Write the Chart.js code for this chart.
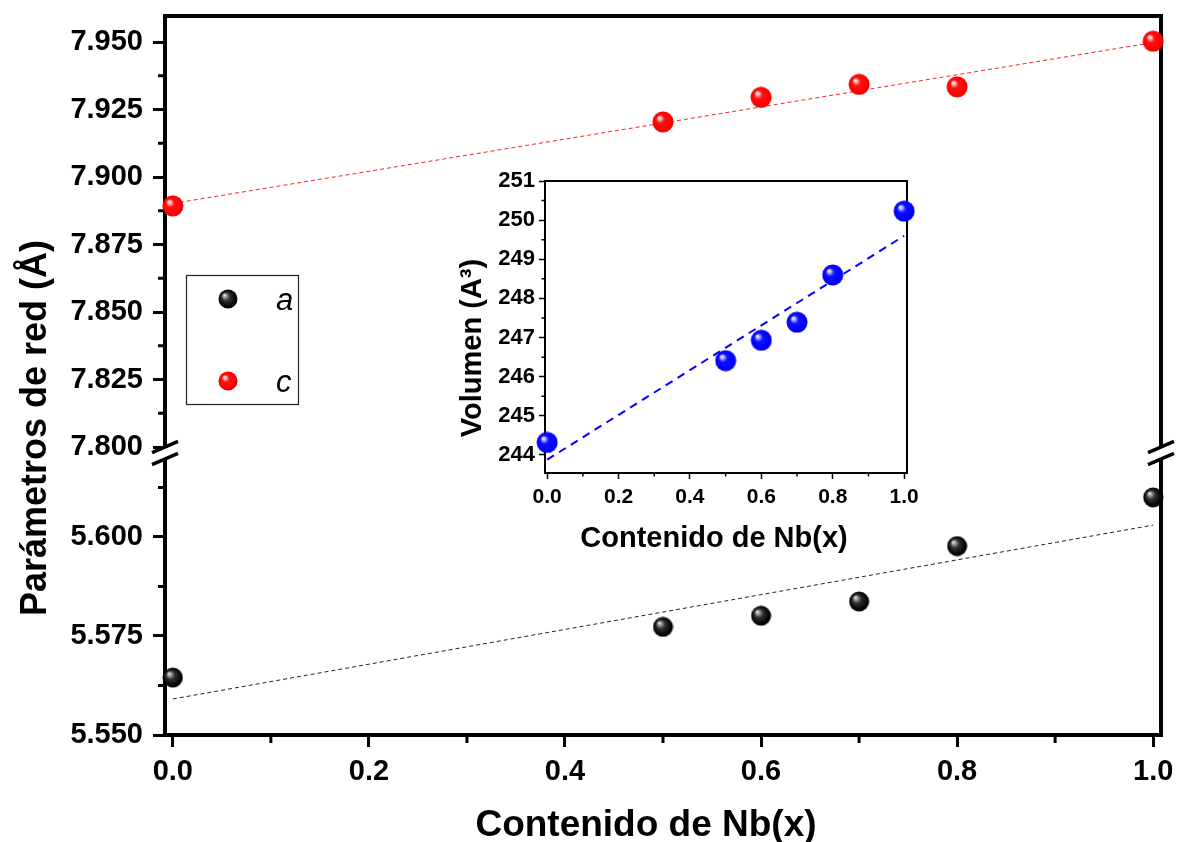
<!DOCTYPE html>
<html>
<head>
<meta charset="utf-8">
<script src="https://cdn.jsdelivr.net/npm/chart.js@4.4.0/dist/chart.umd.min.js"></script>
<style>
  html, body { margin: 0; padding: 0; background: #fff; }
  #wrap { position: relative; width: 1177px; height: 842px; }
  #mainChart { position: absolute; left: 0; top: 0; }
  #insetChart { position: absolute; left: 440px; top: 160px; }
</style>
</head>
<body>
<div id="wrap">
  <canvas id="mainChart" width="1177" height="842"></canvas>
  <canvas id="insetChart" width="480" height="400"></canvas>
</div>
<script>
const FONT = '"Liberation Sans", Arial, Helvetica, sans-serif';

// Nb content and lattice parameters (Å)
const nbContent = [0.0, 0.5, 0.6, 0.7, 0.8, 1.0];
const latticeA = [5.5645, 5.5773, 5.5801, 5.5837, 5.5977, 5.6100];
const latticeC = [7.8893, 7.9204, 7.9295, 7.9343, 7.9334, 7.9503];

// linear fits, end points
const fitX = [0.0, 1.0];
const fitA = [5.5591, 5.6030];
const fitC = [7.8902, 7.9498];

// cell volume (Å^3)
const volume = [244.32, 246.41, 246.93, 247.39, 248.60, 250.23];
const fitVolume = [243.88, 249.60];

// ticks
const xTickValues = [0.0, 0.2, 0.4, 0.6, 0.8, 1.0];
const xMinorValues = [0.1, 0.3, 0.5, 0.7, 0.9];
const cTickValues = [7.800, 7.825, 7.850, 7.875, 7.900, 7.925, 7.950];
const cMinorValues = [7.8125, 7.8375, 7.8625, 7.8875, 7.9125, 7.9375];
const aTickValues = [5.550, 5.575, 5.600];
const aMinorValues = [5.5625, 5.5875, 5.6125];
const volTickValues = [244, 245, 246, 247, 248, 249, 250, 251];
const volMinorValues = [244.5, 245.5, 246.5, 247.5, 248.5, 249.5, 250.5];

// shaded ball used as point marker
function makeBall(d, stops) {
    const c = document.createElement('canvas');
    c.width = d;
    c.height = d;
    const g = c.getContext('2d');
    const r = d / 2;
    const grad = g.createRadialGradient(r * 0.62, r * 0.6, 0, r, r, r);
    stops.forEach(([o, col]) => grad.addColorStop(o, col));
    g.fillStyle = grad;
    g.beginPath();
    g.arc(r, r, r - 0.5, 0, Math.PI * 2);
    g.fill();
    return c;
}

const redStops = [[0, '#ffffff'], [0.14, '#ffc0c0'], [0.38, '#ff1010'], [0.8, '#ff0000'], [1, '#e00000']];
const blackStops = [[0, '#ffffff'], [0.14, '#b0b0b0'], [0.42, '#303030'], [0.8, '#050505'], [1, '#000000']];
const blueStops = [[0, '#ffffff'], [0.14, '#c0c4ff'], [0.38, '#1010ff'], [0.8, '#0000ff'], [1, '#0000e0']];

const ballRed = makeBall(22, redStops);
const ballBlack = makeBall(21, blackStops);
const ballBlue = makeBall(22, blueStops);
const legendBalls = { a: makeBall(20, blackStops), c: makeBall(20, redStops) };

const toPoints = (xs, ys) => xs.map((x, i) => ({ x: x, y: ys[i] }));

function fixedTicks(values) {
    return scale => { scale.ticks = values.map(v => ({ value: v })); };
}

// fixed axis size, no extra room for overhanging tick labels
function fitSize(prop, size) {
    return scale => {
        scale[prop] = size;
        scale.paddingTop = 0;
        scale.paddingBottom = 0;
        scale.paddingLeft = 0;
        scale.paddingRight = 0;
    };
}

// frame, minor ticks, axis break, titles and legend of the main plot
const mainDecor = {
    id: 'mainDecor',
    beforeDatasetsDraw(chart) {
        const { ctx, chartArea: a, scales } = chart;
        ctx.save();
        ctx.strokeStyle = '#000';
        ctx.lineWidth = 4;
        ctx.strokeRect(a.left, a.top, a.right - a.left, a.bottom - a.top);

        ctx.lineWidth = 3;
        ctx.beginPath();
        xMinorValues.forEach(v => {
            const px = scales.x.getPixelForValue(v);
            ctx.moveTo(px, a.bottom);
            ctx.lineTo(px, a.bottom + 8);
        });
        cMinorValues.forEach(v => {
            const py = scales.yC.getPixelForValue(v);
            ctx.moveTo(a.left, py);
            ctx.lineTo(a.left - 7, py);
        });
        aMinorValues.forEach(v => {
            const py = scales.yA.getPixelForValue(v);
            ctx.moveTo(a.left, py);
            ctx.lineTo(a.left - 7, py);
        });
        ctx.stroke();
        ctx.restore();
    },
    afterDraw(chart) {
        const { ctx, chartArea: a, scales } = chart;
        const yb = scales.yC.bottom;
        ctx.save();

        // axis break marks on both sides
        [a.left, a.right].forEach(xa => {
            ctx.strokeStyle = '#fff';
            ctx.lineWidth = 9;
            ctx.beginPath();
            ctx.moveTo(xa - 6, yb + 2.6);
            ctx.lineTo(xa + 6, yb - 2.6);
            ctx.stroke();
            ctx.strokeStyle = '#000';
            ctx.lineWidth = 3.5;
            ctx.beginPath();
            [-6, 6].forEach(off => {
                ctx.moveTo(xa - 13, yb + off + 5.6);
                ctx.lineTo(xa + 13, yb + off - 5.6);
            });
            ctx.stroke();
        });

        // axis titles
        ctx.fillStyle = '#000';
        ctx.textAlign = 'center';
        ctx.textBaseline = 'alphabetic';
        ctx.font = 'bold 37px ' + FONT;
        ctx.fillText('Contenido de Nb(x)', 646, 836);
        ctx.save();
        ctx.translate(46, 428);
        ctx.rotate(-Math.PI / 2);
        ctx.font = 'bold 36px ' + FONT;
        ctx.fillText('Parámetros de red (Å)', 0, 0);
        ctx.restore();

        // legend box
        ctx.strokeStyle = '#222';
        ctx.lineWidth = 1.2;
        ctx.strokeRect(186.5, 275.5, 112, 129);
        const entries = [chart.data.datasets[1], chart.data.datasets[0]];
        ctx.textAlign = 'left';
        ctx.font = 'italic 31px ' + FONT;
        entries.forEach((ds, i) => {
            const cy = 299 + i * 82;
            const img = legendBalls[ds.label];
            ctx.drawImage(img, 228 - img.width / 2, cy - img.height / 2);
            ctx.fillText(ds.label, 276, cy + 11);
        });
        ctx.restore();
    }
};

const tickFont = { family: FONT, size: 29, weight: 'bold' };
const majorGrid = { drawOnChartArea: false, drawTicks: true, tickLength: 12, tickWidth: 3, tickColor: '#000' };

new Chart(document.getElementById('mainChart'), {
    type: 'scatter',
    data: {
        datasets: [
            {
                label: 'c',
                data: toPoints(nbContent, latticeC),
                yAxisID: 'yC',
                pointStyle: ballRed,
                pointRadius: 11,
                showLine: false,
                clip: false
            },
            {
                label: 'a',
                data: toPoints(nbContent, latticeA),
                yAxisID: 'yA',
                pointStyle: ballBlack,
                pointRadius: 10,
                showLine: false,
                clip: false
            },
            {
                label: 'fit c',
                data: toPoints(fitX, fitC),
                yAxisID: 'yC',
                showLine: true,
                pointRadius: 0,
                borderColor: '#ff2020',
                borderWidth: 1,
                borderDash: [4, 3]
            },
            {
                label: 'fit a',
                data: toPoints(fitX, fitA),
                yAxisID: 'yA',
                showLine: true,
                pointRadius: 0,
                borderColor: '#222',
                borderWidth: 1,
                borderDash: [4, 3]
            }
        ]
    },
    plugins: [mainDecor],
    options: {
        responsive: false,
        devicePixelRatio: 1,
        animation: false,
        events: [],
        layout: { padding: { top: 16, right: 16, left: 0, bottom: 0 } },
        plugins: { legend: { display: false }, tooltip: { enabled: false } },
        scales: {
            x: {
                type: 'linear',
                position: 'bottom',
                min: -0.008,
                max: 1.008,
                afterFit: fitSize('height', 107),
                afterBuildTicks: fixedTicks(xTickValues),
                ticks: { font: tickFont, color: '#000', padding: 8, maxRotation: 0, callback: v => Number(v).toFixed(1) },
                grid: majorGrid,
                border: { display: false }
            },
            yC: {
                type: 'linear',
                position: 'left',
                stack: 'lattice',
                stackWeight: 437,
                weight: 2,
                min: 7.79778,
                max: 7.95963,
                afterFit: fitSize('width', 165),
                afterBuildTicks: fixedTicks(cTickValues),
                ticks: { font: tickFont, color: '#000', padding: 10, callback: v => Number(v).toFixed(3) },
                grid: majorGrid,
                border: { display: false }
            },
            yA: {
                type: 'linear',
                position: 'left',
                stack: 'lattice',
                stackWeight: 282,
                weight: 1,
                min: 5.550,
                max: 5.62121,
                afterFit: fitSize('width', 165),
                afterBuildTicks: fixedTicks(aTickValues),
                ticks: { font: tickFont, color: '#000', padding: 10, callback: v => Number(v).toFixed(3) },
                grid: majorGrid,
                border: { display: false }
            }
        }
    }
});

// inset: frame, minor ticks and titles
const insetDecor = {
    id: 'insetDecor',
    beforeDatasetsDraw(chart) {
        const { ctx, chartArea: a, scales } = chart;
        ctx.save();
        ctx.strokeStyle = '#000';
        ctx.lineWidth = 2;
        ctx.strokeRect(a.left, a.top, a.right - a.left, a.bottom - a.top);
        ctx.lineWidth = 1.5;
        ctx.beginPath();
        xMinorValues.forEach(v => {
            const px = scales.x.getPixelForValue(v);
            ctx.moveTo(px, a.bottom);
            ctx.lineTo(px, a.bottom + 3.5);
        });
        volMinorValues.forEach(v => {
            const py = scales.y.getPixelForValue(v);
            ctx.moveTo(a.left, py);
            ctx.lineTo(a.left - 3.5, py);
        });
        ctx.stroke();
        ctx.restore();
    },
    afterDraw(chart) {
        const { ctx } = chart;
        ctx.save();
        ctx.fillStyle = '#000';
        ctx.textAlign = 'center';
        ctx.textBaseline = 'alphabetic';
        ctx.font = 'bold 29px ' + FONT;
        ctx.fillText('Contenido de Nb(x)', 274, 387);
        ctx.translate(41, 188);
        ctx.rotate(-Math.PI / 2);
        ctx.fillText('Volumen (A³)', 0, 0);
        ctx.restore();
    }
};

const insetGrid = { drawOnChartArea: false, drawTicks: true, tickLength: 6, tickWidth: 1.5, tickColor: '#000' };

new Chart(document.getElementById('insetChart'), {
    type: 'scatter',
    data: {
        datasets: [
            {
                label: 'V',
                data: toPoints(nbContent, volume),
                pointStyle: ballBlue,
                pointRadius: 11,
                showLine: false,
                clip: false
            },
            {
                label: 'fit V',
                data: toPoints(fitX, fitVolume),
                showLine: true,
                pointRadius: 0,
                borderColor: '#0000ff',
                borderWidth: 2,
                borderDash: [8, 6]
            }
        ]
    },
    plugins: [insetDecor],
    options: {
        responsive: false,
        devicePixelRatio: 1,
        animation: false,
        events: [],
        layout: { padding: { top: 21, right: 13, left: 0, bottom: 0 } },
        plugins: { legend: { display: false }, tooltip: { enabled: false } },
        scales: {
            x: {
                type: 'linear',
                min: -0.006,
                max: 1.008,
                afterFit: fitSize('height', 87),
                afterBuildTicks: fixedTicks(xTickValues),
                ticks: { font: { family: FONT, size: 21, weight: 'bold' }, color: '#000', padding: 6, maxRotation: 0, callback: v => Number(v).toFixed(1) },
                grid: insetGrid,
                border: { display: false }
            },
            y: {
                type: 'linear',
                min: 243.54,
                max: 251,
                afterFit: fitSize('width', 105),
                afterBuildTicks: fixedTicks(volTickValues),
                ticks: { font: { family: FONT, size: 22, weight: 'bold' }, color: '#000', padding: 4, callback: v => String(v) },
                grid: insetGrid,
                border: { display: false }
            }
        }
    }
});
</script>
</body>
</html>
